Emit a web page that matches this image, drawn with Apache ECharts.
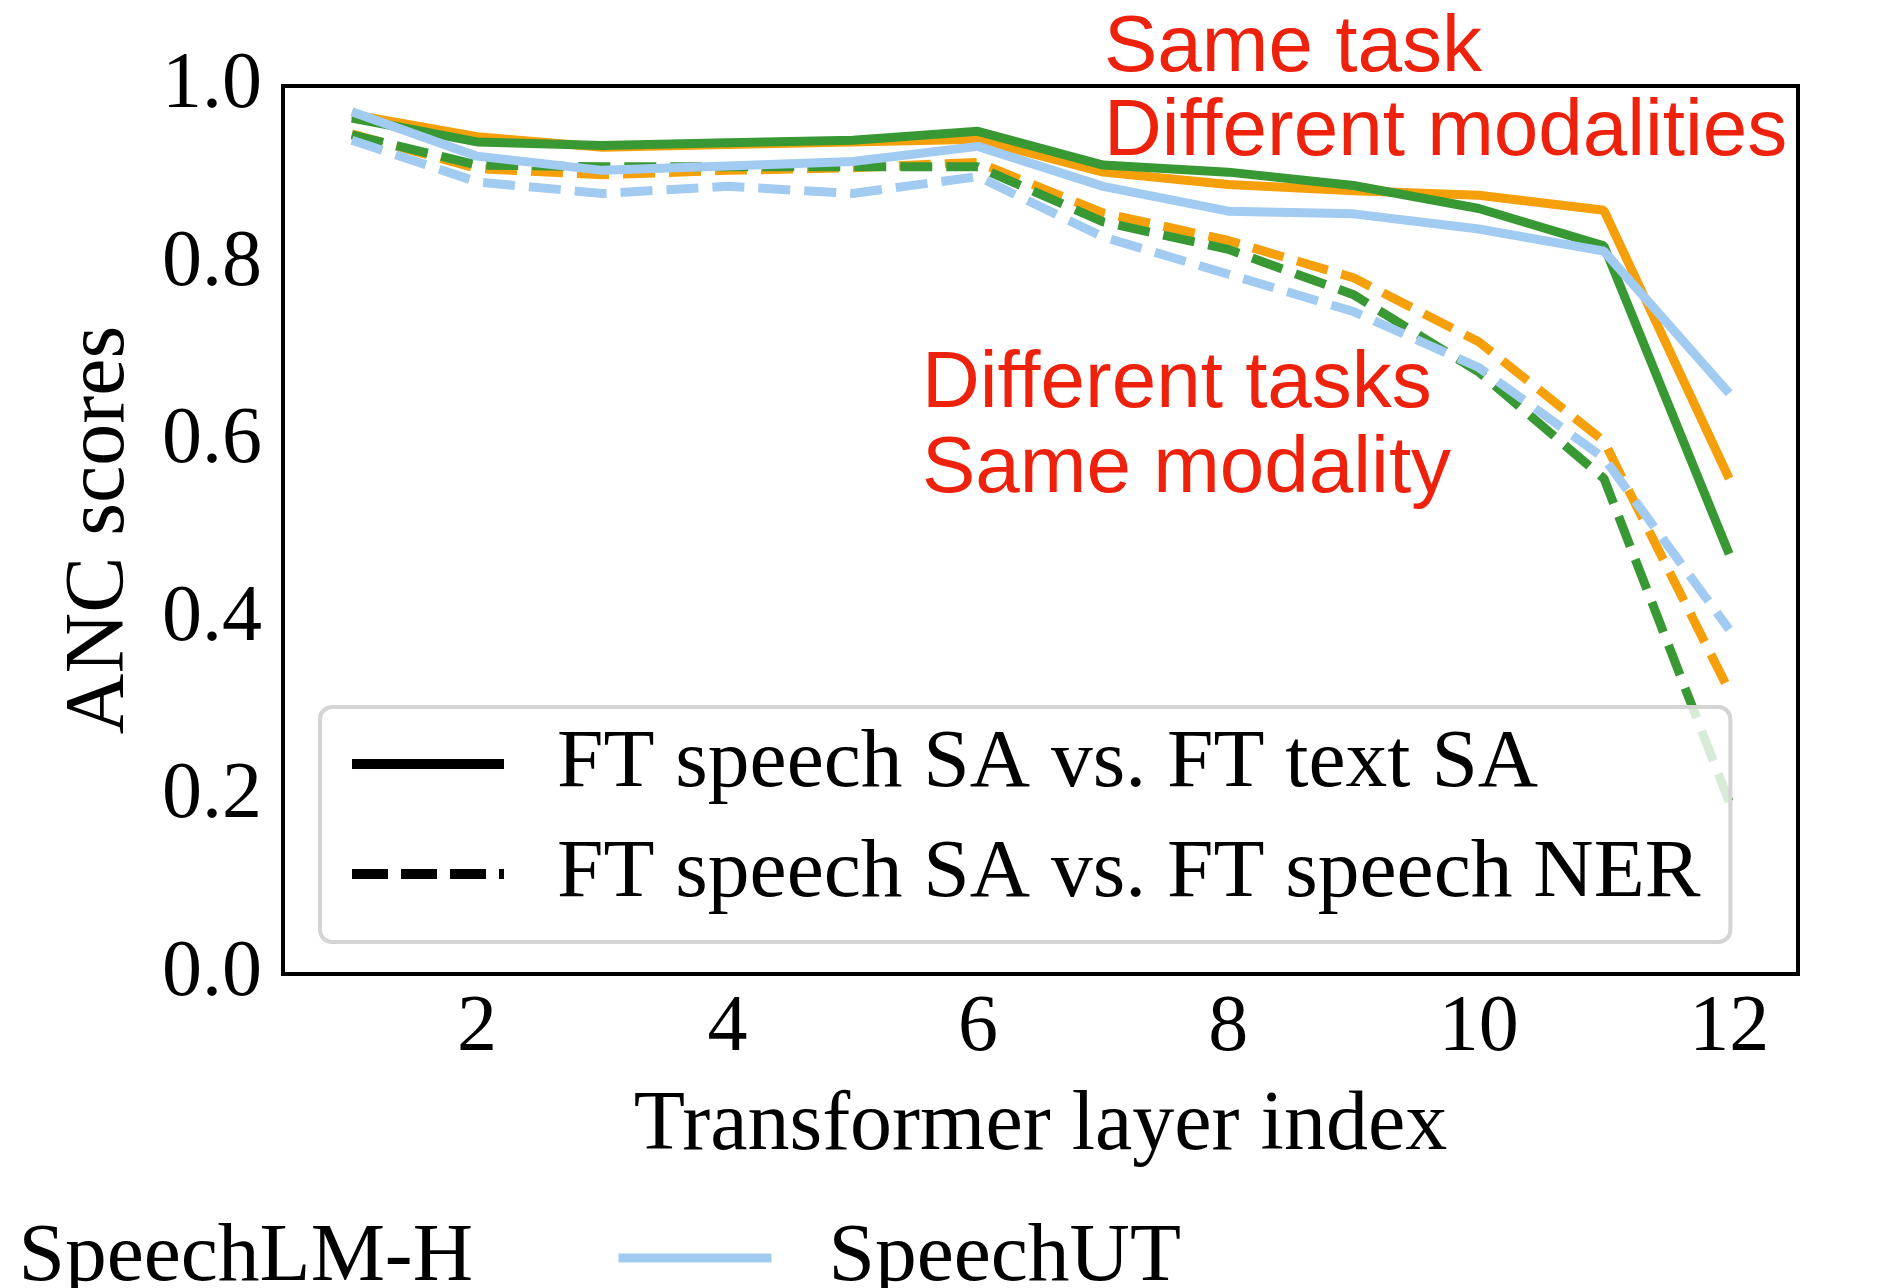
<!DOCTYPE html>
<html><head><meta charset="utf-8">
<script src="https://cdn.jsdelivr.net/npm/echarts@6/dist/echarts.min.js"></script>
<style>html,body{margin:0;padding:0;background:#fff}#c{width:1878px;height:1288px}</style>
</head><body><div id="c"></div>
<script>
// ---- data ----
const layers = [1, 2, 3, 4, 5, 6, 7, 8, 9, 10, 11, 12];
const xTickLabels = [2, 4, 6, 8, 10, 12];
const yTicks = [0.0, 0.2, 0.4, 0.6, 0.8, 1.0];

const modelNames = ['SpeechLM-P', 'SpeechLM-H', 'SpeechUT'];
const modelColors = ['#f5a00a', '#389934', '#a2cbf2'];
const styleNames = ['FT speech SA vs. FT text SA', 'FT speech SA vs. FT speech NER'];

// solid: FT speech SA vs. FT text SA ; dashed: FT speech SA vs. FT speech NER
const lmP_textSA   = [0.968, 0.943, 0.931, 0.934, 0.937, 0.940, 0.903, 0.889, 0.882, 0.877, 0.860, 0.558];
const lmP_speechNER = [0.946, 0.907, 0.900, 0.905, 0.908, 0.914, 0.857, 0.826, 0.784, 0.712, 0.600, 0.319];
const lmH_textSA   = [0.964, 0.937, 0.933, 0.936, 0.939, 0.949, 0.911, 0.903, 0.888, 0.862, 0.820, 0.473];
const lmH_speechNER = [0.945, 0.911, 0.909, 0.909, 0.909, 0.909, 0.847, 0.816, 0.765, 0.678, 0.558, 0.194];
const ut_textSA    = [0.971, 0.921, 0.905, 0.910, 0.915, 0.932, 0.887, 0.859, 0.856, 0.839, 0.814, 0.654];
const ut_speechNER = [0.939, 0.892, 0.879, 0.887, 0.879, 0.898, 0.830, 0.788, 0.746, 0.683, 0.581, 0.388];

const annotations = [
  ['Same task', 1104, 49],
  ['Different modalities', 1104, 133],
  ['Different tasks', 922, 385],
  ['Same modality', 922, 470]
];

// ---- chart ----
const serif = 'Liberation Serif';
const pairs = arr => layers.map((l, i) => [l, arr[i]]);
const solid = [lmP_textSA, lmH_textSA, ut_textSA];
const dashed = [lmP_speechNER, lmH_speechNER, ut_speechNER];
const DASH = [32, 14];
const LW = 9;

const series = [];
for (let m = 0; m < 3; m++) {
  series.push({
    type: 'line', name: modelNames[m], data: pairs(solid[m]),
    symbol: 'none', showSymbol: false, silent: true,
    itemStyle: { color: modelColors[m] },
    lineStyle: { color: modelColors[m], width: LW, type: 'solid' }
  });
  series.push({
    type: 'line', name: modelNames[m] + ' NER', data: pairs(dashed[m]),
    symbol: 'none', showSymbol: false, silent: true,
    itemStyle: { color: modelColors[m] },
    lineStyle: { color: modelColors[m], width: LW, type: DASH }
  });
}
// style-only series for the inner legend
series.push({ type: 'line', name: styleNames[0], data: [], symbol: 'none',
  itemStyle: { color: '#000' }, lineStyle: { color: '#000', width: 10, type: 'solid' } });
series.push({ type: 'line', name: styleNames[1], data: [], symbol: 'none',
  itemStyle: { color: '#000' }, lineStyle: { color: '#000', width: 10, type: [36, 13] } });

const chart = echarts.init(document.getElementById('c'), null, { renderer: 'canvas' });
chart.setOption({
  animation: false,
  backgroundColor: '#fff',
  grid: { left: 283, right: 80, top: 86, bottom: 314, show: true, borderColor: '#000', borderWidth: 4, backgroundColor: 'transparent' },
  xAxis: {
    type: 'value', min: 0.45, max: 12.55,
    name: 'Transformer layer index', nameLocation: 'middle', nameGap: 111,
    nameTextStyle: { fontFamily: serif, fontSize: 84, color: '#000' },
    axisLine: { show: false }, axisTick: { show: false }, splitLine: { show: false },
    axisLabel: { customValues: xTickLabels, fontFamily: serif, fontSize: 80, color: '#000', margin: 15 }
  },
  yAxis: {
    type: 'value', min: 0, max: 1, interval: 0.2,
    name: 'ANC scores', nameLocation: 'middle', nameGap: 140, nameRotate: 90,
    nameTextStyle: { fontFamily: serif, fontSize: 84, color: '#000' },
    axisLine: { show: false }, axisTick: { show: false }, splitLine: { show: false },
    axisLabel: { customValues: yTicks, fontFamily: serif, fontSize: 80, color: '#000', margin: 21,
      padding: [10, 0, 0, 0], formatter: v => Number(v).toFixed(1) }
  },
  legend: [
    {
      data: styleNames, orient: 'vertical', left: 320, top: 707,
      padding: [15, 30, 26, 27], itemGap: 26, itemWidth: 152, itemHeight: 20,
      selectedMode: false, backgroundColor: 'rgba(255,255,255,0.8)',
      borderColor: '#d4d4d4', borderWidth: 4, borderRadius: 12,
      itemStyle: { opacity: 0 }, lineStyle: { width: 10 },
      textStyle: { fontFamily: serif, fontSize: 83.5, color: '#000', padding: [0, 0, 0, 48] }
    },
    {
      data: ['SpeechLM-H', 'SpeechUT'], orient: 'horizontal', left: -196, top: 1216,
      padding: 0, itemGap: 141, itemWidth: 153, itemHeight: 20, selectedMode: false,
      itemStyle: { opacity: 0 }, lineStyle: { width: 9 },
      textStyle: { fontFamily: serif, fontSize: 83.5, color: '#000', padding: [0, 0, 0, 52] }
    }
  ],
  graphic: annotations.map(a => ({
    type: 'text', x: a[1], y: a[2], z: 10, silent: true,
    style: { text: a[0], fontFamily: 'Liberation Sans', fontSize: 80, fill: '#ee220c',
      textAlign: 'left', textVerticalAlign: 'middle', verticalAlign: 'middle' }
  })),
  series: series
});
</script></body></html>
